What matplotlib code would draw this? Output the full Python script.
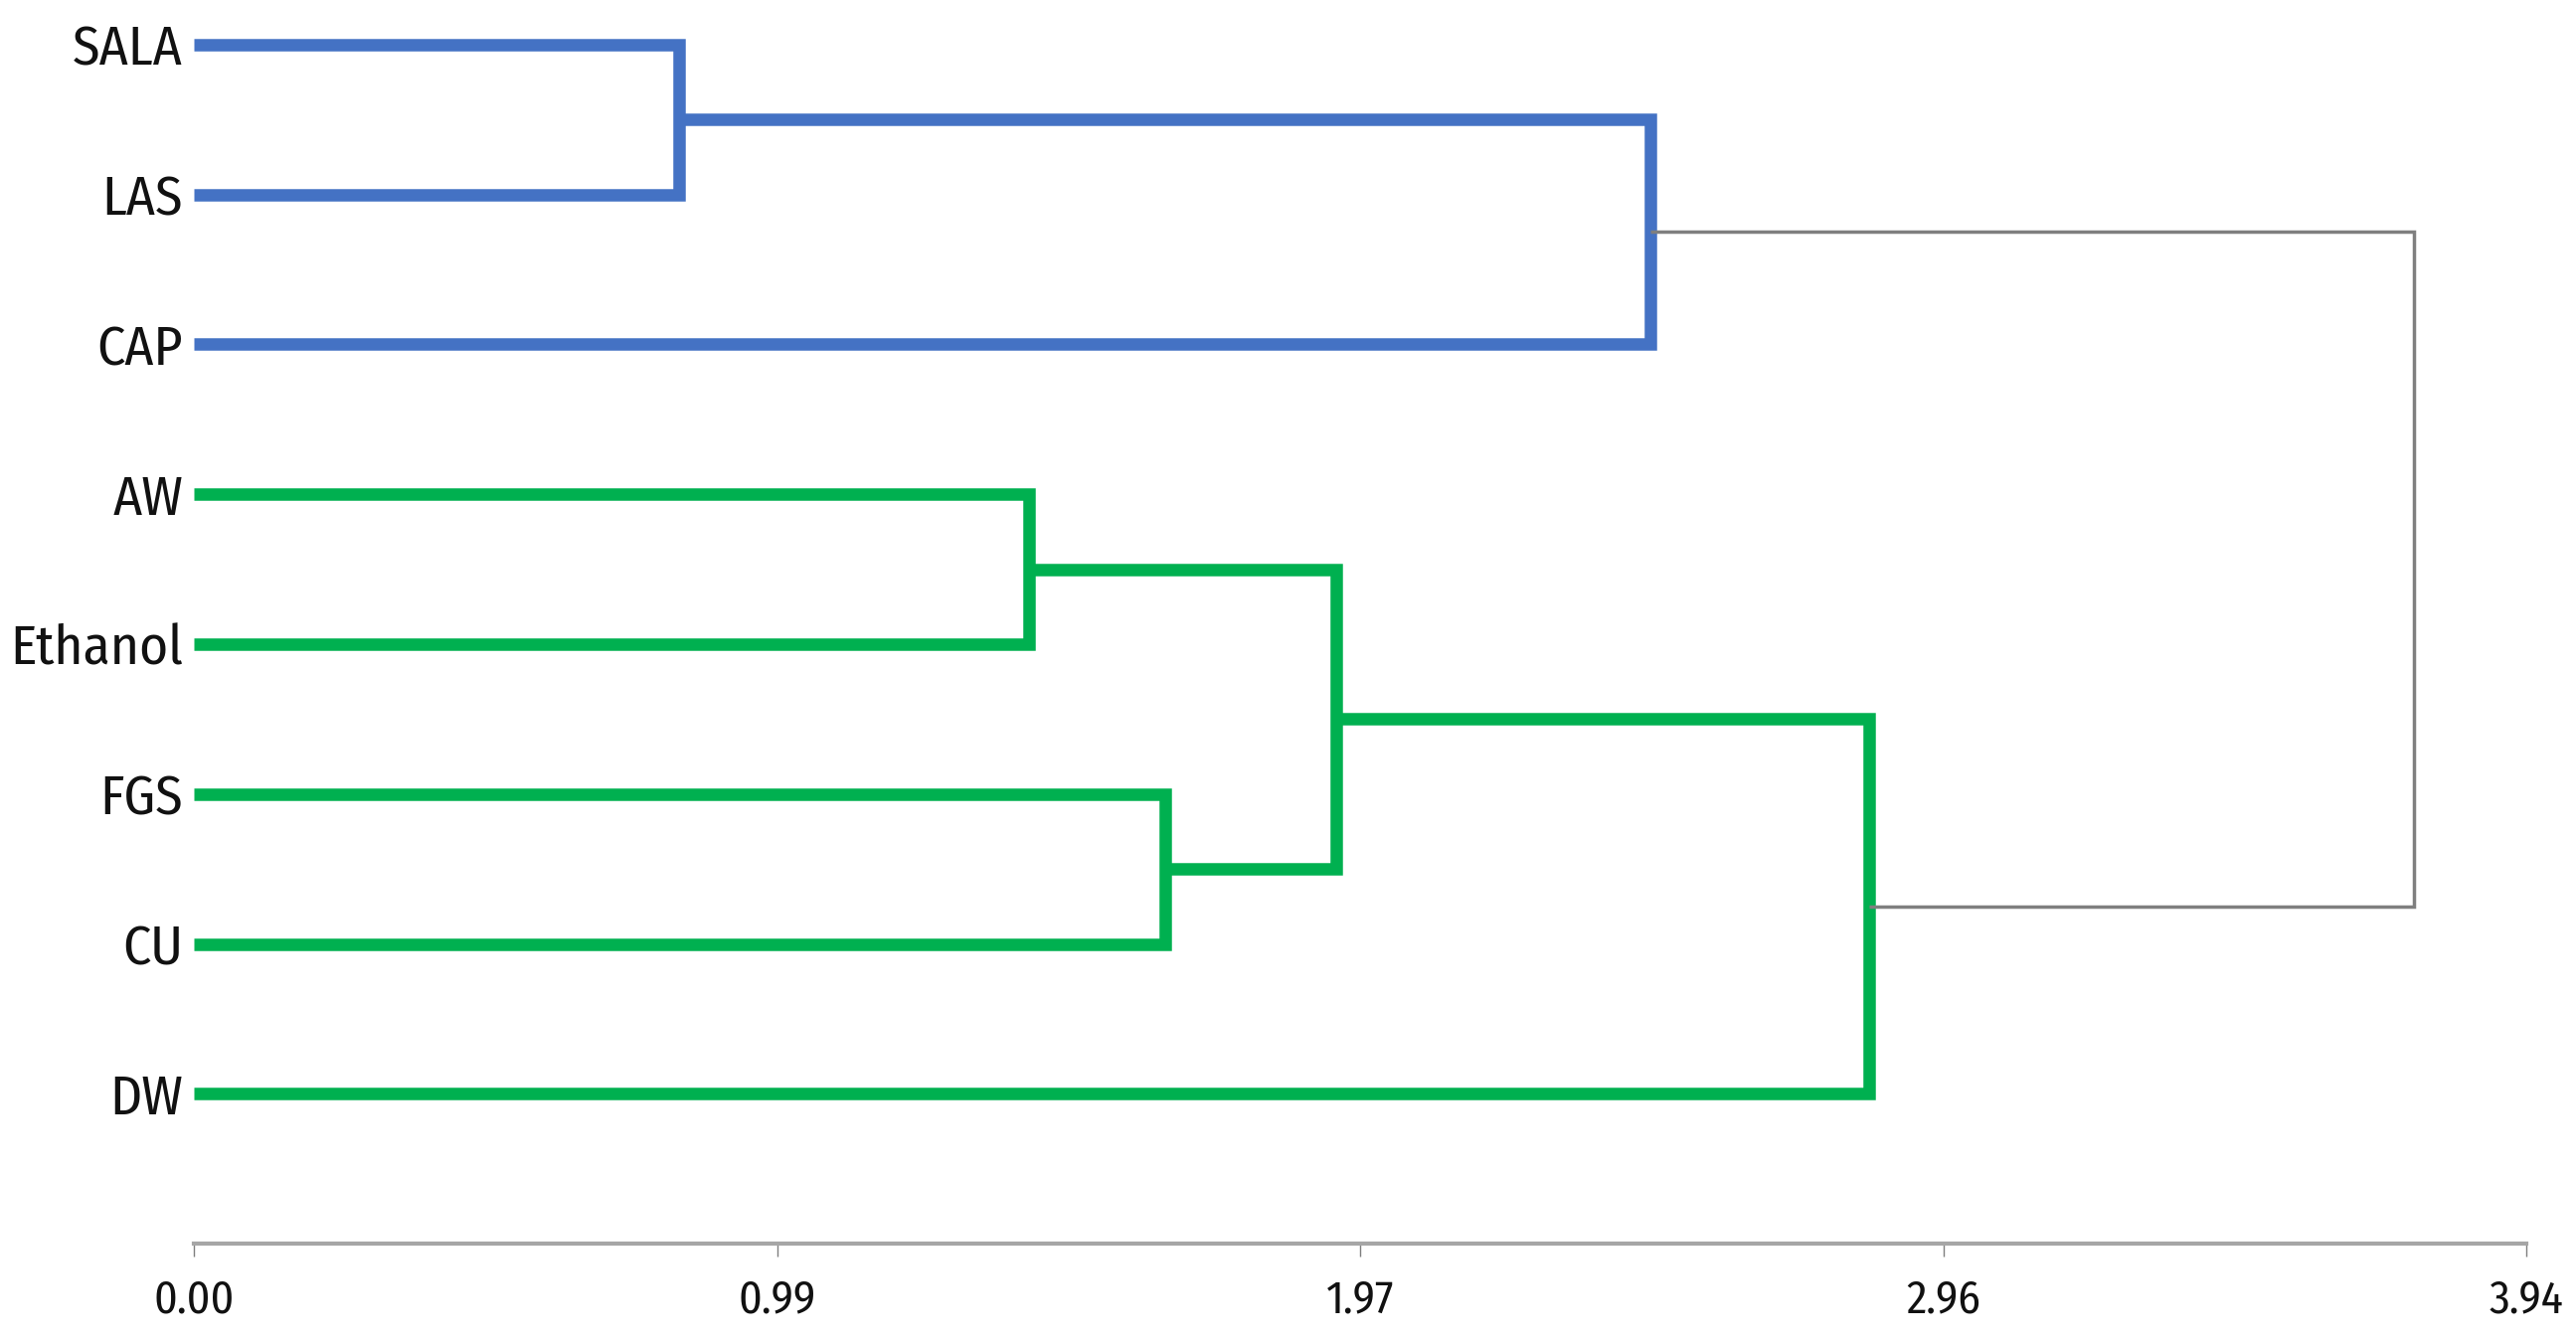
import matplotlib.pyplot as plt
import numpy as np

# leaves (top to bottom)
labels = ['SALA', 'LAS', 'CAP', 'AW', 'Ethanol', 'FGS', 'CU', 'DW']

# merges : index < 8 is a leaf, 8 + k is the k-th merge
merge_left = [0, 8, 3, 5, 10, 12, 9]
merge_right = [1, 2, 4, 6, 11, 7, 13]
merge_dist = [0.82, 2.46, 1.41, 1.64, 1.93, 2.83, 3.75]
merge_color = ['#4472C4', '#4472C4', '#00B050', '#00B050', '#00B050', '#00B050', '#7F7F7F']

x_max = 3.94
tick_labels = ['0.00', '0.99', '1.97', '2.96', '3.94']

# condensed sans (fallback to Liberation Sans if missing)
font_list = ['Fira Sans Condensed', 'Barlow Semi Condensed', 'Asap Condensed', 'Liberation Sans', 'DejaVu Sans']

fig = plt.figure(figsize=(25.91, 13.49), dpi=100)
ax = fig.add_axes([0.0753, 0.0726, 0.9054, 0.922])

# node positions
ypos = list(range(len(labels)))
xpos = [0.0] * len(labels)
for l, r, d, c in zip(merge_left, merge_right, merge_dist, merge_color):
    lw = 2.5 if c == '#7F7F7F' else 9
    ax.plot([xpos[l], d, d, xpos[r]], [ypos[l], ypos[l], ypos[r], ypos[r]],
            color=c, linewidth=lw, solid_joinstyle='miter', solid_capstyle='butt',
            clip_on=False)
    xpos.append(d)
    ypos.append((ypos[l] + ypos[r]) / 2)

ax.set_xlim(0, x_max)
ax.set_ylim(8, -0.25)

ax.set_xticks(np.linspace(0, x_max, len(tick_labels)))
ax.set_xticklabels(tick_labels, family=font_list, fontsize=33, color='#111111')
ax.tick_params(axis='x', length=9, width=1, color='#7F7F7F', pad=16)

ax.set_yticks(range(len(labels)))
ax.set_yticklabels(labels, family=font_list, fontsize=40, color='#111111')
ax.tick_params(axis='y', length=0, pad=8)

for s in ['top', 'right', 'left']:
    ax.spines[s].set_visible(False)
ax.spines['bottom'].set_color('#A6A6A6')
ax.spines['bottom'].set_linewidth(3)

plt.savefig('out.png', dpi=100)
